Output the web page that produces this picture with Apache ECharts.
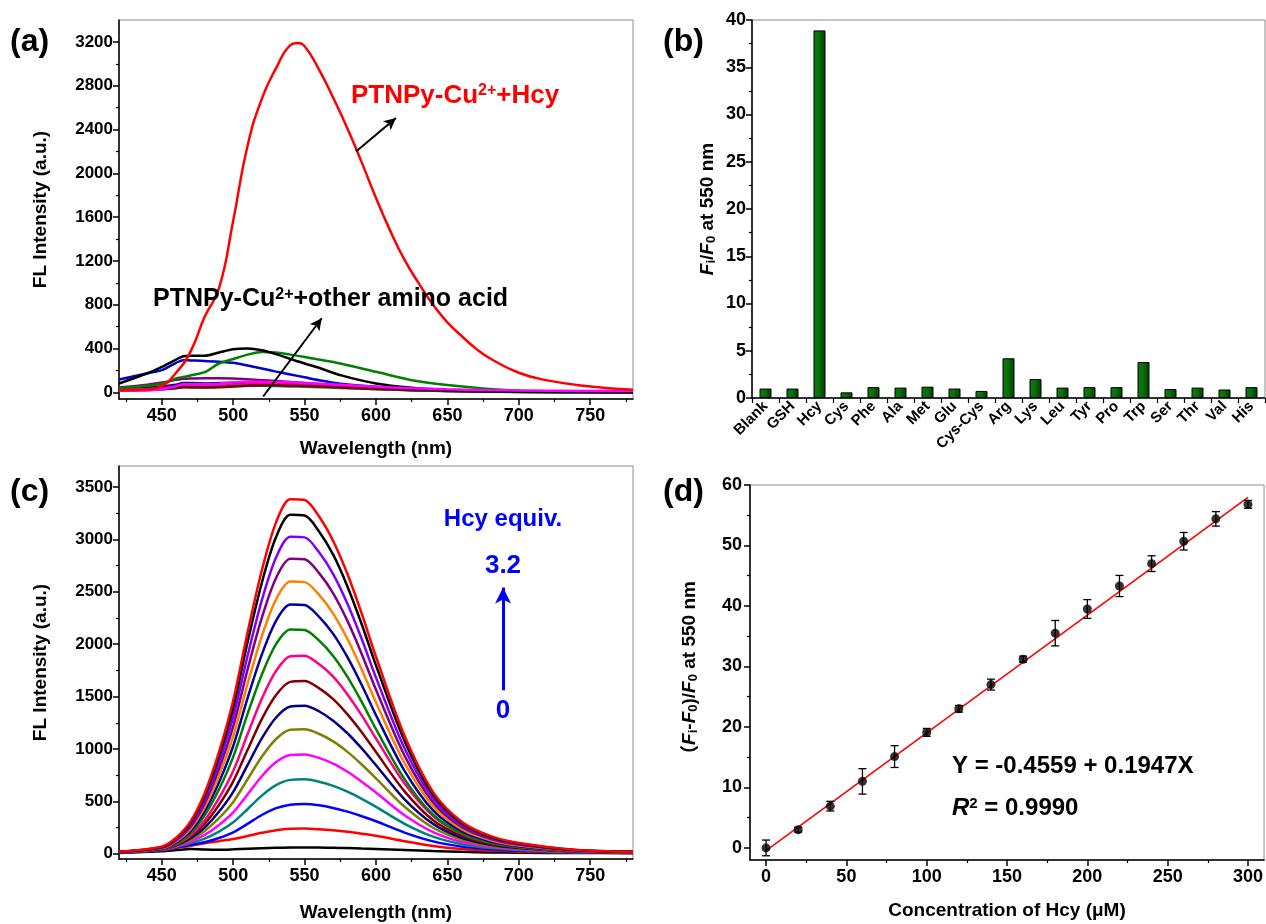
<!DOCTYPE html>
<html>
<head>
<meta charset="utf-8">
<script src="https://cdn.jsdelivr.net/npm/echarts@6/dist/echarts.min.js"></script>
<style>
  html, body { margin: 0; padding: 0; background: #fff; }
  #chart { width: 1266px; height: 924px; }
</style>
</head>
<body>
<div id="chart"></div>
<script>
// ---- (a) 选择性光谱 ----
const wlA = [420, 440, 450, 460, 470, 480, 490, 500, 510, 520, 530, 540, 545, 550, 560, 570, 580, 590, 600, 610, 620, 630, 640, 650, 660, 670, 680, 700, 720, 750, 780];
const hcyA = [20, 30, 60, 180, 370, 690, 950, 1570, 2250, 2680, 2960, 3170, 3190, 3160, 2950, 2690, 2410, 2100, 1775, 1475, 1210, 995, 800, 640, 515, 400, 310, 180, 110, 55, 25];
const wlS = [420, 440, 450, 460, 465, 470, 480, 490, 500, 510, 520, 530, 540, 550, 560, 575, 600, 625, 650, 675, 700, 750, 780];
const otherA = [
  { color: '#800080', v: [45, 70, 90, 115, 125, 128, 130, 130, 128, 120, 112, 104, 95, 86, 76, 62, 42, 27, 17, 11, 7, 4, 3] },
  { color: '#000080', v: [30, 45, 55, 70, 85, 85, 82, 85, 88, 88, 85, 80, 75, 68, 60, 50, 35, 22, 14, 9, 6, 3, 2] },
  { color: '#ff0080', v: [25, 32, 40, 55, 65, 62, 58, 62, 70, 75, 78, 76, 72, 66, 60, 50, 36, 24, 15, 10, 7, 4, 3] },
  { color: '#008080', v: [20, 25, 30, 40, 50, 50, 48, 52, 58, 60, 60, 58, 55, 52, 48, 40, 30, 20, 13, 8, 5, 3, 2] },
  { color: '#800000', v: [18, 22, 28, 38, 48, 46, 44, 48, 55, 62, 66, 65, 62, 58, 53, 44, 32, 21, 13, 8, 5, 3, 2] },
  { color: '#0000cc', v: [118, 175, 203, 270, 294, 292, 288, 280, 270, 245, 218, 190, 164, 138, 112, 80, 52, 35, 21, 12, 6, 3, 2] },
  { color: '#008000', v: [36, 60, 80, 127, 140, 155, 185, 264, 305, 345, 370, 364, 345, 324, 300, 264, 188, 112, 67, 36, 18, 6, 4] },
  { color: '#000000', v: [82, 175, 233, 300, 330, 335, 335, 365, 394, 400, 385, 350, 305, 264, 225, 158, 82, 42, 21, 12, 6, 4, 3] },
  { color: '#ff00ff', v: [15, 20, 28, 55, 75, 75, 75, 80, 90, 97, 98, 96, 92, 86, 80, 70, 52, 38, 28, 22, 18, 14, 12] }
];
const ticksA_y = [0, 400, 800, 1200, 1600, 2000, 2400, 2800, 3200];
const minorA_y = [200, 600, 1000, 1400, 1800, 2200, 2600, 3000];
const ticksWl = [450, 500, 550, 600, 650, 700, 750];
const minorWl = [425, 475, 525, 575, 625, 675, 725, 775];
// 箭头（数据坐标）
const arrowA1 = [[586, 2200], [614, 2505]];
const arrowA2 = [[521, -37], [562, 677]];

// ---- (b) 柱状图 ----
const aminoNames = ['Blank', 'GSH', 'Hcy', 'Cys', 'Phe', 'Ala', 'Met', 'Glu', 'Cys-Cys', 'Arg', 'Lys', 'Leu', 'Tyr', 'Pro', 'Trp', 'Ser', 'Thr', 'Val', 'His'];
const ratioB = [1.0, 1.0, 38.9, 0.6, 1.15, 1.1, 1.2, 1.0, 0.75, 4.2, 2.0, 1.1, 1.15, 1.15, 3.8, 0.95, 1.1, 0.9, 1.15];

// ---- (c) 滴定光谱 ----
const wlC = [420, 450, 460, 470, 480, 490, 500, 510, 520, 530, 540, 550, 560, 570, 580, 590, 600, 620, 640, 660, 680, 700, 740, 780];
const titrC = [
  { color: '#000000', v: [8, 25, 35, 45, 40, 38, 42, 48, 53, 57, 60, 60, 59, 57, 54, 50, 46, 36, 26, 18, 13, 10, 7, 6] },
  { color: '#ff0000', v: [10, 33, 55, 75, 100, 120, 140, 170, 200, 225, 238, 240, 234, 224, 210, 192, 172, 120, 75, 46, 30, 20, 10, 8] },
  { color: '#0000ff', v: [11, 36, 60, 85, 110, 150, 205, 285, 370, 435, 468, 474, 462, 437, 402, 358, 310, 202, 118, 68, 42, 28, 12, 9] },
  { color: '#008080', v: [11, 38, 65, 100, 145, 212, 300, 425, 555, 655, 705, 710, 688, 648, 592, 524, 448, 286, 163, 91, 54, 35, 14, 10] },
  { color: '#ff00ff', v: [12, 40, 70, 115, 180, 275, 395, 565, 740, 875, 943, 948, 915, 860, 782, 688, 585, 368, 207, 113, 66, 42, 16, 11] },
  { color: '#808000', v: [12, 42, 75, 130, 218, 340, 495, 710, 925, 1095, 1183, 1188, 1145, 1072, 972, 852, 720, 448, 248, 134, 76, 48, 18, 12] },
  { color: '#000080', v: [13, 43, 80, 145, 250, 400, 590, 845, 1100, 1300, 1405, 1413, 1360, 1270, 1150, 1005, 845, 520, 285, 152, 86, 55, 20, 12] },
  { color: '#800000', v: [13, 44, 85, 160, 285, 465, 690, 990, 1285, 1515, 1640, 1648, 1580, 1475, 1330, 1160, 970, 595, 320, 170, 95, 60, 22, 13] },
  { color: '#ff0080', v: [14, 45, 90, 175, 318, 530, 790, 1140, 1480, 1745, 1885, 1890, 1810, 1690, 1520, 1320, 1100, 670, 360, 190, 105, 65, 24, 14] },
  { color: '#008000', v: [14, 45, 97, 194, 366, 613, 925, 1333, 1709, 2000, 2140, 2135, 2036, 1888, 1688, 1449, 1189, 712, 372, 194, 108, 65, 24, 14] },
  { color: '#0000a0', v: [15, 48, 108, 215, 406, 681, 1028, 1482, 1900, 2223, 2378, 2373, 2263, 2098, 1876, 1611, 1322, 791, 413, 215, 120, 72, 26, 15] },
  { color: '#ff8000', v: [16, 52, 118, 235, 444, 744, 1122, 1618, 2075, 2427, 2597, 2592, 2472, 2292, 2049, 1759, 1443, 864, 452, 235, 131, 78, 29, 16] },
  { color: '#800080', v: [17, 57, 127, 255, 481, 807, 1217, 1755, 2250, 2632, 2816, 2810, 2680, 2485, 2222, 1907, 1565, 937, 490, 255, 142, 85, 31, 17] },
  { color: '#8000ff', v: [18, 61, 137, 274, 517, 866, 1307, 1885, 2417, 2827, 3025, 3019, 2879, 2669, 2386, 2049, 1681, 1006, 526, 274, 152, 91, 33, 18] },
  { color: '#000000', v: [19, 65, 146, 292, 552, 926, 1397, 2015, 2584, 3022, 3234, 3227, 3078, 2854, 2551, 2190, 1797, 1076, 562, 292, 162, 98, 35, 19] },
  { color: '#ff0000', v: [20, 68, 153, 306, 578, 969, 1462, 2108, 2703, 3162, 3383, 3376, 3220, 2985, 2669, 2292, 1880, 1125, 588, 306, 170, 102, 37, 20] }
];
const ticksC_y = [0, 500, 1000, 1500, 2000, 2500, 3000, 3500];
const minorC_y = [250, 750, 1250, 1750, 2250, 2750, 3250];
const arrowC = [[689, 1560], [689, 2540]];

// ---- (d) 线性拟合 ----
const concD = [0, 20, 40, 60, 80, 100, 120, 140, 160, 180, 200, 220, 240, 260, 280, 300];
const ratioD = [0.0, 3.0, 6.9, 11.0, 15.1, 19.1, 23.0, 27.0, 31.2, 35.5, 39.5, 43.3, 47.0, 50.7, 54.4, 56.8];
const errD = [1.3, 0.4, 0.8, 2.1, 1.8, 0.65, 0.55, 0.9, 0.5, 2.1, 1.55, 1.75, 1.3, 1.45, 1.2, 0.65];
const fitX = [0, 300];
const fitY = [-0.46, 57.95];
const ticksD_x = [0, 50, 100, 150, 200, 250, 300];
const minorD_x = [25, 75, 125, 175, 225, 275];
const ticksD_y = [0, 10, 20, 30, 40, 50, 60];
const minorD_y = [5, 15, 25, 35, 45, 55];

const FONT = "'Liberation Sans', Arial, sans-serif";
const chart = echarts.init(document.getElementById('chart'), null, { renderer: 'canvas' });

const plain = v => String(v); // 不要千分位逗号

// 主刻度轴
const majorAxis = (gridIndex, position, min, max, ticks, extra) => Object.assign({
  type: 'value', gridIndex, position, min, max,
  axisLine: { show: true, onZero: false, lineStyle: { color: '#000', width: 1.5 } },
  axisTick: { show: true, inside: false, length: 6, customValues: ticks, lineStyle: { color: '#000', width: 1.5 } },
  axisLabel: { show: true, customValues: ticks, formatter: plain, color: '#000', fontWeight: 'bold', fontSize: 17, fontFamily: FONT, margin: 6 },
  splitLine: { show: false }
}, extra || {});

// 次刻度轴（只画短刻度）
const minorAxis = (gridIndex, position, min, max, ticks) => ({
  type: 'value', gridIndex, position, min, max,
  axisLine: { show: false, onZero: false },
  axisTick: { show: true, inside: false, length: 3, customValues: ticks, lineStyle: { color: '#000', width: 1.2 } },
  axisLabel: { show: false },
  splitLine: { show: false }
});

const nameRich = {
  n: { fontSize: 19, fontWeight: 'bold', fontFamily: FONT, color: '#000' },
  i: { fontSize: 19, fontWeight: 'bold', fontStyle: 'italic', fontFamily: FONT, color: '#000' },
  sub: { fontSize: 13, fontWeight: 'bold', fontFamily: FONT, color: '#000', verticalAlign: 'bottom', padding: [8, 0, 0, 0] },
  p: { fontSize: 19, fontFamily: "'Noto Sans CJK SC', sans-serif", color: '#000' }
};
const nameStyle = { fontSize: 19, fontWeight: 'bold', fontFamily: FONT, color: '#000', rich: nameRich };
const xLabel = ticks => ({ customValues: ticks, formatter: plain, color: '#000', fontWeight: 'bold', fontSize: 18, fontFamily: FONT, margin: 8 });

const grids = [
  { left: 119, top: 20, width: 514, height: 379 },
  { left: 752, top: 20, width: 513, height: 378 },
  { left: 119, top: 466, width: 514, height: 393 },
  { left: 750, top: 485, width: 515, height: 375 }
];
grids.forEach(g => { g.show = true; g.borderColor = '#8c8c8c'; g.borderWidth = 1; g.backgroundColor = 'transparent'; g.containLabel = false; });

const xAxes = [
  majorAxis(0, 'bottom', 420, 780, ticksWl, { name: 'Wavelength (nm)', nameLocation: 'middle', nameGap: 40, nameTextStyle: nameStyle, axisLabel: xLabel(ticksWl) }),
  {
    type: 'category', gridIndex: 1, position: 'bottom', data: aminoNames, boundaryGap: true,
    axisLine: { show: true, onZero: false, lineStyle: { color: '#000', width: 1.5 } },
    axisTick: { show: true, inside: false, length: 5, interval: 0, alignWithLabel: false, lineStyle: { color: '#000', width: 1.2 } },
    axisLabel: { interval: 0, rotate: 45, color: '#000', fontWeight: 'bold', fontSize: 15, fontFamily: FONT, margin: 6 },
    splitLine: { show: false }
  },
  majorAxis(2, 'bottom', 420, 780, ticksWl, { name: 'Wavelength (nm)', nameLocation: 'middle', nameGap: 44, nameTextStyle: nameStyle, axisLabel: xLabel(ticksWl) }),
  majorAxis(3, 'bottom', -10, 310, ticksD_x, { name: 'Concentration of Hcy (\u03bcM)', nameLocation: 'middle', nameGap: 41, nameTextStyle: nameStyle, axisLabel: xLabel(ticksD_x) }),
  minorAxis(0, 'bottom', 420, 780, minorWl),
  minorAxis(2, 'bottom', 420, 780, minorWl),
  minorAxis(3, 'bottom', -10, 310, minorD_x)
];

const yAxes = [
  majorAxis(0, 'left', -60, 3400, ticksA_y, { name: 'FL Intensity (a.u.)', nameLocation: 'middle', nameGap: 69, nameTextStyle: nameStyle }),
  {
    type: 'value', gridIndex: 1, position: 'left', min: 0, max: 40, interval: 5,
    axisLine: { show: true, onZero: false, lineStyle: { color: '#000', width: 1.5 } },
    axisTick: { show: true, length: 6, lineStyle: { color: '#000', width: 1.5 } },
    minorTick: { show: true, splitNumber: 2, length: 3, lineStyle: { color: '#000', width: 1.2 } },
    axisLabel: { color: '#000', fontWeight: 'bold', fontSize: 18, fontFamily: FONT, margin: 6 },
    splitLine: { show: false }, minorSplitLine: { show: false },
    name: '{i|F}{sub|i}{n|/}{i|F}{sub|0}{n| at 550 nm}', nameLocation: 'middle', nameGap: 34, nameTextStyle: nameStyle
  },
  majorAxis(2, 'left', -50, 3700, ticksC_y, { name: 'FL Intensity (a.u.)', nameLocation: 'middle', nameGap: 69, nameTextStyle: nameStyle }),
  majorAxis(3, 'left', -2, 60, ticksD_y, {
    name: '{p|\uff08}{i|F}{sub|i}{n|-}{i|F}{sub|0}{n|)/}{i|F}{sub|0}{n| at 550 nm}', nameLocation: 'middle', nameGap: 50, nameTextStyle: nameStyle,
    axisLabel: { customValues: ticksD_y, formatter: plain, color: '#000', fontWeight: 'bold', fontSize: 18, fontFamily: FONT, margin: 8 }
  }),
  minorAxis(0, 'left', -60, 3400, minorA_y),
  minorAxis(2, 'left', -50, 3700, minorC_y),
  minorAxis(3, 'left', -2, 60, minorD_y)
];

const series = [];

// (a)
series.push({
  type: 'line', xAxisIndex: 0, yAxisIndex: 0, smooth: 0.5, symbol: 'none', z: 3,
  data: wlA.map((w, k) => [w, hcyA[k]]),
  lineStyle: { color: '#ff0000', width: 2.5 },
  markLine: {
    silent: true, symbol: ['none', 'arrow'], symbolSize: [9, 12], label: { show: false },
    lineStyle: { color: '#000', width: 2, type: 'solid' },
    data: [
      [{ coord: arrowA1[0] }, { coord: arrowA1[1] }],
      [{ coord: arrowA2[0] }, { coord: arrowA2[1] }]
    ]
  }
});
otherA.forEach(c => series.push({
  type: 'line', xAxisIndex: 0, yAxisIndex: 0, smooth: 0.3, symbol: 'none', z: 2,
  data: wlS.map((w, k) => [w, c.v[k]]),
  lineStyle: { color: c.color, width: 2.5 }
}));

// (b)
series.push({
  type: 'bar', xAxisIndex: 1, yAxisIndex: 1, barWidth: 12, data: ratioB,
  itemStyle: {
    color: new echarts.graphic.LinearGradient(0, 0, 1, 0, [
      { offset: 0, color: '#0e7a0e' }, { offset: 0.45, color: '#0a700a' }, { offset: 1, color: '#003a00' }
    ]),
    borderColor: '#000', borderWidth: 1
  }
});

// (c)
titrC.forEach(c => series.push({
  type: 'line', xAxisIndex: 2, yAxisIndex: 2, smooth: 0.3, symbol: 'none',
  data: wlC.map((w, k) => [w, c.v[k]]),
  lineStyle: { color: c.color, width: 2.5 }
}));
series.push({
  type: 'line', xAxisIndex: 2, yAxisIndex: 2, symbol: 'none', data: [],
  markLine: {
    silent: true, symbol: ['none', 'arrow'], symbolSize: [12, 16], label: { show: false },
    lineStyle: { color: '#0000ff', width: 3, type: 'solid' },
    data: [[{ coord: arrowC[0] }, { coord: arrowC[1] }]]
  }
});

// (d)
series.push({
  type: 'line', xAxisIndex: 3, yAxisIndex: 3, symbol: 'none', z: 2,
  data: fitX.map((x, k) => [x, fitY[k]]),
  lineStyle: { color: '#ff0000', width: 1.6 }
});
series.push({
  type: 'custom', xAxisIndex: 3, yAxisIndex: 3, z: 3,
  data: concD.map((x, k) => [x, ratioD[k] - errD[k], ratioD[k] + errD[k]]),
  encode: { x: 0, y: [1, 2] },
  renderItem: (params, api) => {
    const lo = api.coord([api.value(0), api.value(1)]);
    const hi = api.coord([api.value(0), api.value(2)]);
    const w = 4;
    const st = { stroke: '#000', lineWidth: 1.3 };
    return {
      type: 'group', children: [
        { type: 'line', shape: { x1: lo[0], y1: lo[1], x2: hi[0], y2: hi[1] }, style: st },
        { type: 'line', shape: { x1: lo[0] - w, y1: lo[1], x2: lo[0] + w, y2: lo[1] }, style: st },
        { type: 'line', shape: { x1: hi[0] - w, y1: hi[1], x2: hi[0] + w, y2: hi[1] }, style: st }
      ]
    };
  }
});
series.push({
  type: 'scatter', xAxisIndex: 3, yAxisIndex: 3, symbol: 'circle', symbolSize: 9, z: 4,
  data: concD.map((x, k) => [x, ratioD[k]]),
  itemStyle: { color: '#000' }
});

// 文字标注
const txt = (text, x, y, size, color, extra) => ({
  type: 'text', x, y, z: 100,
  style: Object.assign({ text, fill: color, font: `bold ${size}px ${FONT}`, verticalAlign: 'middle' }, extra || {})
});
const supRich = (size, color) => ({
  n: { fontSize: size, fontWeight: 'bold', fontFamily: FONT, fill: color },
  i: { fontSize: size, fontWeight: 'bold', fontStyle: 'italic', fontFamily: FONT, fill: color },
  sup: { fontSize: Math.round(size * 0.62), fontWeight: 'bold', fontFamily: FONT, fill: color, verticalAlign: 'top' }
});

const graphic = [
  txt('(a)', 10, 42, 32, '#000'),
  txt('(b)', 663, 42, 32, '#000'),
  txt('(c)', 10, 492, 32, '#000'),
  txt('(d)', 663, 492, 32, '#000'),
  txt('{n|PTNPy-Cu}{sup|2+}{n|+Hcy}', 351, 96, 26, '#ff0000', { rich: supRich(26, '#ff0000') }),
  txt('{n|PTNPy-Cu}{sup|2+}{n|+other amino acid}', 153, 299, 25, '#000', { rich: supRich(25, '#000') }),
  txt('Hcy equiv.', 503, 519, 24, '#0000ff', { align: 'center' }),
  txt('3.2', 503, 566, 26, '#0000ff', { align: 'center' }),
  txt('0', 503, 711, 26, '#0000ff', { align: 'center' }),
  txt('Y = -0.4559 + 0.1947X', 952, 766, 24, '#000'),
  txt('{i|R}{sup|2}{n| = 0.9990}', 952, 808, 24, '#000', { rich: supRich(24, '#000') })
];

chart.setOption({
  animation: false,
  backgroundColor: '#fff',
  textStyle: { fontFamily: FONT },
  grid: grids,
  xAxis: xAxes,
  yAxis: yAxes,
  series,
  graphic
});
</script>
</body>
</html>
